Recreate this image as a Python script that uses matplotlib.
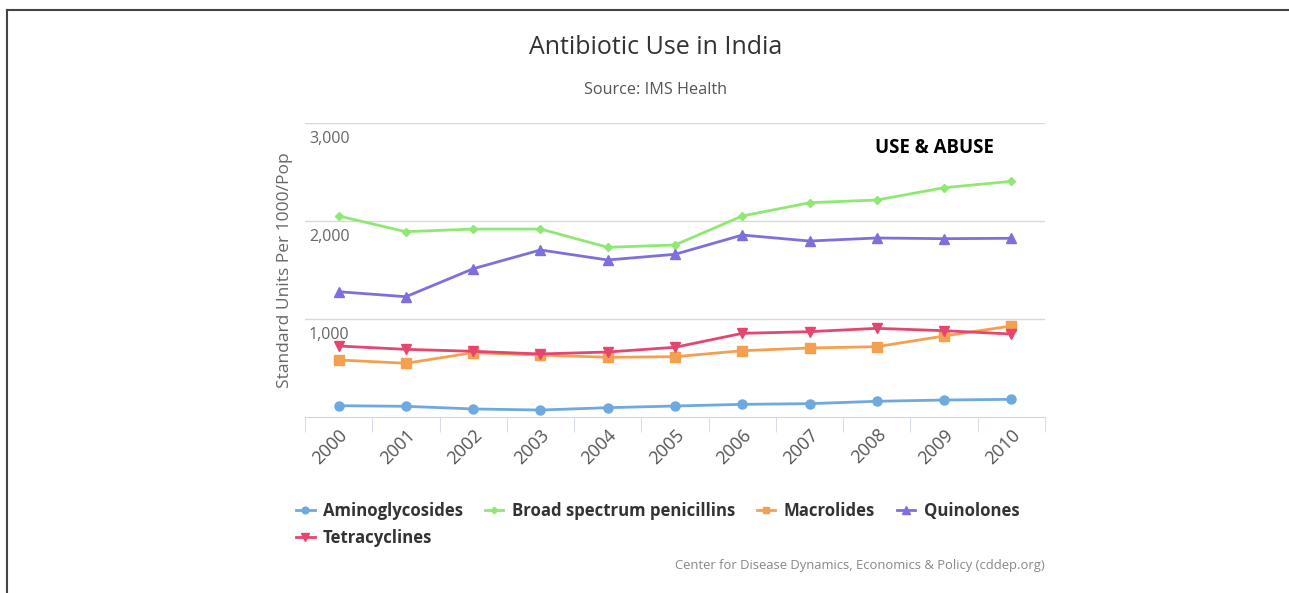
import numpy as np
import matplotlib
matplotlib.use('Agg')
import matplotlib.pyplot as plt
from matplotlib.lines import Line2D

years = ['2000', '2001', '2002', '2003', '2004', '2005', '2006', '2007', '2008', '2009', '2010']

aminoglycosides = [118, 112, 85, 74, 98, 115, 132, 139, 163, 176, 183]
penicillins = [2050, 1890, 1917, 1917, 1731, 1755, 2050, 2185, 2213, 2338, 2403]
macrolides = [584, 550, 658, 634, 611, 617, 678, 706, 719, 828, 930]
quinolones = [1279, 1228, 1513, 1704, 1602, 1660, 1856, 1795, 1826, 1819, 1823]
tetracyclines = [726, 692, 672, 645, 665, 713, 855, 872, 906, 882, 848]

series_names = ['Aminoglycosides', 'Broad spectrum penicillins', 'Macrolides',
                'Quinolones', 'Tetracyclines']
y_ticks = [1000, 2000, 3000]
y_tick_labels = ['1,000', '2,000', '3,000']

plt.rcParams['font.family'] = ['Open Sans', 'DejaVu Sans']

W, H = 1289, 593
fig = plt.figure(figsize=(W / 100, H / 100), dpi=100)

# plot area in pixel coords
x0, x1 = 305, 1045
y_top, y_bot = 122.7, 417.3
ax = fig.add_axes([x0 / W, 1 - y_bot / H, (x1 - x0) / W, (y_bot - y_top) / H])

x = np.arange(len(years))
styles = [
    (aminoglycosides, '#6ea9e0', 'o', 6.5),
    (penicillins, '#8ee872', 'D', 4.5),
    (macrolides, '#f5a04f', 's', 6.5),
    (quinolones, '#7d70dc', '^', 7),
    (tetracyclines, '#e6456e', 'v', 7),
]
handles = []
for (vals, col, mk, ms), name in zip(styles, series_names):
    h, = ax.plot(x, vals, color=col, lw=2, marker=mk, ms=ms, label=name, zorder=3)
    handles.append(h)

ax.set_xlim(-0.5, len(years) - 0.5)
ax.set_ylim(0, 3000)

# grid lines
for v in y_ticks:
    ax.axhline(v, color='#d8d8d8', lw=1, zorder=1)
ax.set_yticks([])
for v, lab in zip(y_ticks, y_tick_labels):
    ax.annotate(lab, xy=(0, v), xycoords=('axes fraction', 'data'),
                xytext=(4, -16), textcoords='offset pixels',
                ha='left', va='center', fontsize=11.5, color='#666666')

for s in ['top', 'right', 'left']:
    ax.spines[s].set_visible(False)
ax.spines['bottom'].set_color('#ccd6eb')

ax.set_xticks(x)
ax.set_xticklabels(years, rotation=45, ha='right', rotation_mode='anchor',
                   fontsize=13, color='#555555')
ax.tick_params(axis='x', which='major', length=0, pad=6)
ax.set_xticks(np.arange(-0.5, len(years)), minor=True)
ax.tick_params(axis='x', which='minor', length=11, color='#ccd6eb', direction='out')

fig.text(285 / W, 1 - 270 / H, 'Standard Units Per 1000/Pop', rotation=90,
         ha='center', va='center', fontsize=12.5, color='#666666')

# titles
fig.text(656 / W, 1 - 48 / H, 'Antibiotic Use in India', ha='center', va='center',
         fontsize=18, color='#333333')
fig.text(656 / W, 1 - 90 / H, 'Source: IMS Health', ha='center', va='center',
         fontsize=11.7, color='#555555')
fig.text(934 / W, 1 - 148 / H, 'USE & ABUSE', ha='center', va='center',
         fontsize=13.4, fontweight='bold', color='black')

# legend (row-major order emulated)
order = [0, 4, 1, 2, 3]
fig.legend([handles[i] for i in order], [series_names[i] for i in order],
           ncol=4, loc='upper left', bbox_to_anchor=(281 / W, 1 - 487 / H),
           frameon=False, handlelength=1.1, handletextpad=0.5, columnspacing=1.3,
           labelspacing=0.55, prop={'weight': 'bold', 'size': 12.1},
           labelcolor='#333333', markerscale=0.75)

fig.text(1045 / W, 1 - 566 / H,
         'Center for Disease Dynamics, Economics & Policy (cddep.org)',
         ha='right', va='center', fontsize=9.4, color='#888888')

# frame lines of the slide
fig.add_artist(Line2D([7 / W, 1], [1 - 9.5 / H, 1 - 9.5 / H], color='#444444', lw=1.5))
fig.add_artist(Line2D([7 / W, 7 / W], [0, 1 - 9.5 / H], color='#444444', lw=1.5))

fig.savefig('out.png', dpi=100)
